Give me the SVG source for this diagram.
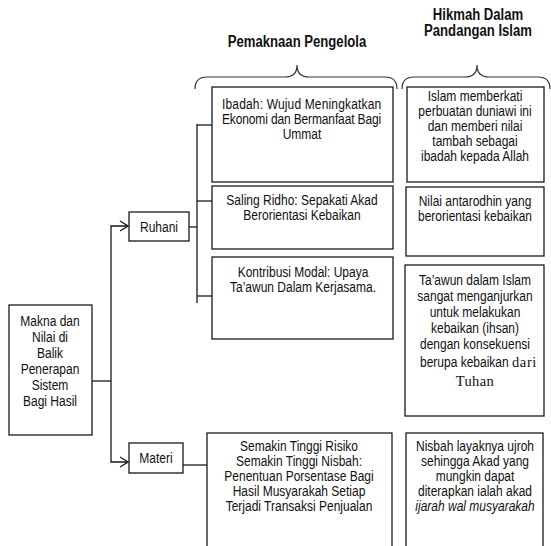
<svg xmlns="http://www.w3.org/2000/svg" width="551" height="546" viewBox="0 0 551 546">
<defs>
<style>
.box{fill:#fff;stroke:#1a1a1a;stroke-width:1.3}
.ln{fill:none;stroke:#1a1a1a;stroke-width:1.3}
.br{fill:none;stroke:#333;stroke-width:1.2}
.t{font-family:"Liberation Sans",Arial,sans-serif;font-size:15px;fill:#111;text-anchor:middle}
.tl{font-family:"Liberation Sans",Arial,sans-serif;font-size:15px;fill:#111;text-anchor:start}
.h{font-family:"Liberation Sans",Arial,sans-serif;font-size:16px;font-weight:bold;fill:#111;text-anchor:middle}
.s{font-family:"Liberation Serif","Times New Roman",serif;font-size:14.5px;fill:#111}
</style>
<marker id="arr" markerWidth="10" markerHeight="12" refX="9" refY="6" orient="auto" markerUnits="userSpaceOnUse">
<path d="M1,1 L9,6 L1,11" fill="none" stroke="#1a1a1a" stroke-width="1.3"/>
</marker>
</defs>
<rect width="551" height="546" fill="#fff"/>

<g id="titles">
<text class="h" transform="translate(297 0) scale(0.82 1)"><tspan x="0" y="47">Pemaknaan Pengelola</tspan></text>
<text class="h" transform="translate(478 0) scale(0.82 1)"><tspan x="0" y="20">Hikmah Dalam</tspan><tspan x="0" y="36">Pandangan Islam</tspan></text>
<path class="br" d="M195,89 Q195,77 207,77 L285,77 Q297,77 297,65 Q297,77 309,77 L385,77 Q397,77 397,89"/>
<path class="br" d="M402,89 Q402,77 414,77 L465,77 Q477,77 477,65 Q477,77 489,77 L538,77 Q550,77 550,89"/>
</g>

<g id="connectors">
<path class="ln" d="M92,381 H111"/>
<path class="ln" d="M111,381 V226 H128" marker-end="url(#arr)"/>
<path class="ln" d="M111,381 V462 H128" marker-end="url(#arr)"/>
<path class="ln" d="M189,227 H197"/>
<path class="ln" d="M197,124 V303"/>
<path class="ln" d="M197,125 H212"/>
<path class="ln" d="M197,201 H212"/>
<path class="ln" d="M197,296 H212"/>
<path class="ln" d="M183,465 H207"/>
</g>

<g id="main">
<rect class="box" x="9" y="305" width="83" height="130"/>
<text class="t" transform="translate(50 0) scale(0.8 1)"><tspan x="0" y="326">Makna dan</tspan><tspan x="0" y="342">Nilai di</tspan><tspan x="0" y="358">Balik</tspan><tspan x="0" y="374">Penerapan</tspan><tspan x="0" y="390">Sistem</tspan><tspan x="0" y="406">Bagi Hasil</tspan></text>
</g>

<g id="ruhani">
<rect class="box" x="129" y="212" width="60" height="29"/>
<text class="t" transform="translate(159 0) scale(0.8 1)"><tspan x="0" y="232">Ruhani</tspan></text>
</g>

<g id="materi">
<rect class="box" x="129" y="443" width="54" height="30"/>
<text class="t" transform="translate(156 0) scale(0.8 1)"><tspan x="0" y="463.5">Materi</tspan></text>
</g>

<g id="ibadah">
<rect class="box" x="212" y="87" width="181" height="95"/>
<text class="tl" transform="translate(222 0) scale(0.8 1)"><tspan x="0" y="109" textLength="199" lengthAdjust="spacing">Ibadah: Wujud Meningkatkan</tspan></text>
<text class="tl" transform="translate(222 0) scale(0.8 1)"><tspan x="0" y="124" textLength="199" lengthAdjust="spacing">Ekonomi dan Bermanfaat Bagi</tspan></text>
<text class="t" transform="translate(302 0) scale(0.8 1)"><tspan x="0" y="139">Ummat</tspan></text>
</g>

<g id="saling">
<rect class="box" x="212" y="186" width="181" height="63"/>
<text class="t" transform="translate(302 0) scale(0.8 1)"><tspan x="0" y="205">Saling Ridho: Sepakati Akad</tspan><tspan x="0" y="220">Berorientasi Kebaikan</tspan></text>
</g>

<g id="kontribusi">
<rect class="box" x="212" y="257" width="181" height="82"/>
<text class="t" transform="translate(303 0) scale(0.8 1)"><tspan x="0" y="277">Kontribusi Modal: Upaya</tspan><tspan x="0" y="292">Ta’awun Dalam Kerjasama.</tspan></text>
</g>

<g id="semakin">
<rect class="box" x="207" y="433" width="185" height="130"/>
<text class="t" transform="translate(299 0) scale(0.8 1)"><tspan x="0" y="451">Semakin Tinggi Risiko</tspan><tspan x="0" y="466">Semakin Tinggi Nisbah:</tspan><tspan x="0" y="481">Penentuan Porsentase Bagi</tspan><tspan x="0" y="496">Hasil Musyarakah Setiap</tspan><tspan x="0" y="511">Terjadi Transaksi Penjualan</tspan></text>
</g>

<g id="hikmah1">
<rect class="box" x="407" y="87" width="137" height="95"/>
<text class="t" transform="translate(475 0) scale(0.8 1)"><tspan x="0" y="101">Islam memberkati</tspan><tspan x="0" y="116">perbuatan duniawi ini</tspan><tspan x="0" y="131">dan memberi nilai</tspan><tspan x="0" y="146">tambah sebagai</tspan><tspan x="0" y="161">ibadah kepada Allah</tspan></text>
</g>

<g id="hikmah2">
<rect class="box" x="406" y="187" width="138" height="69"/>
<text class="t" transform="translate(475 0) scale(0.8 1)"><tspan x="0" y="206">Nilai antarodhin yang</tspan><tspan x="0" y="221">berorientasi kebaikan</tspan></text>
</g>

<g id="hikmah3">
<rect class="box" x="405" y="265" width="139" height="151"/>
<text class="t" transform="translate(475 0) scale(0.8 1)"><tspan x="0" y="285">Ta’awun dalam Islam</tspan><tspan x="0" y="301">sangat menganjurkan</tspan><tspan x="0" y="317">untuk melakukan</tspan><tspan x="0" y="333">kebaikan (ihsan)</tspan><tspan x="0" y="349">dengan konsekuensi</tspan></text>
<text class="tl" transform="translate(420 0) scale(0.8 1)"><tspan x="0" y="367">berupa kebaikan</tspan></text>
<text class="s" x="512" y="367" letter-spacing="0.6">dari</text>
<text class="s" x="475" y="386" text-anchor="middle" letter-spacing="0.4">Tuhan</text>
</g>

<g id="hikmah4">
<rect class="box" x="406" y="433" width="137" height="130"/>
<text class="t" transform="translate(475 0) scale(0.8 1)"><tspan x="0" y="451">Nisbah layaknya ujroh</tspan><tspan x="0" y="466">sehingga Akad yang</tspan><tspan x="0" y="481">mungkin dapat</tspan><tspan x="0" y="496">diterapkan ialah akad</tspan><tspan x="0" y="511" font-style="italic">ijarah wal musyarakah</tspan></text>
</g>
</svg>
